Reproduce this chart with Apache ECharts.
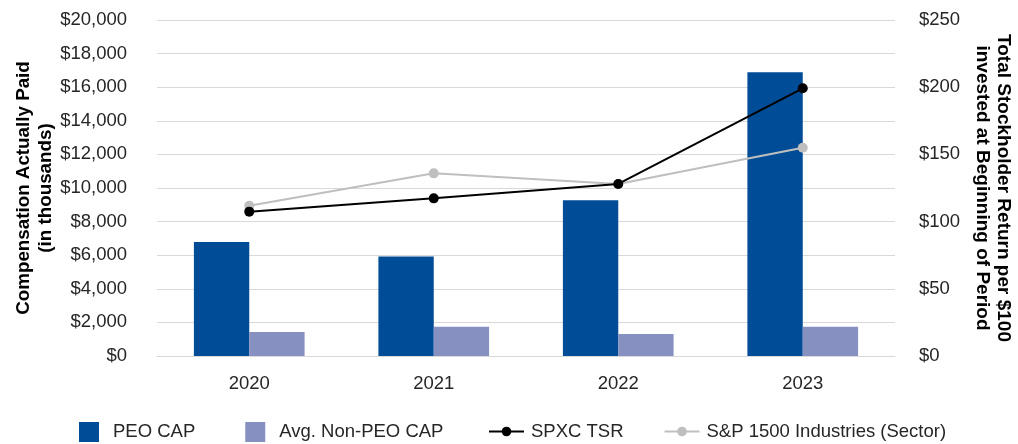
<!DOCTYPE html>
<html>
<head>
<meta charset="utf-8">
<script src="https://cdn.jsdelivr.net/npm/echarts@6/dist/echarts.min.js"></script>
<style>
  html, body { margin: 0; padding: 0; background: #ffffff; }
  #chart { width: 1018px; height: 444px; }
</style>
</head>
<body>
<div id="chart"></div>
<script>
const categories = ['2020', '2021', '2022', '2023'];
const peoCap = [6790, 5930, 9270, 16890];
const nonPeoCap = [1430, 1745, 1310, 1745];
const spxcTsr = [107.4, 117.3, 128, 199.2];
const spSector = [111.8, 135.9, 128, 155];

const FONT = "'Liberation Sans', Arial, sans-serif";
const TXT = '#262626';

function money(v) {
  return '$' + String(v).replace(/\B(?=(\d{3})+(?!\d))/g, ',');
}

const chart = echarts.init(document.getElementById('chart'));
chart.setOption({
  animation: false,
  textStyle: { fontFamily: FONT },
  grid: { left: 157, right: 123, top: 20, bottom: 88, containLabel: false, outerBoundsMode: 'none' },
  legend: [
    {
      data: ['PEO CAP', 'Avg. Non-PEO CAP'],
      left: 79, top: 422, padding: 0,
      itemWidth: 20, itemHeight: 20, itemGap: 50,
      icon: 'rect',
      textStyle: { fontFamily: FONT, fontSize: 18.5, color: TXT, padding: [0, 0, 0, 9] }
    },
    {
      data: ['SPXC TSR', 'S&P 1500 Industries (Sector)'],
      left: 488, top: 422, padding: 0,
      itemWidth: 35, itemHeight: 12, itemGap: 40,
      textStyle: { fontFamily: FONT, fontSize: 18.5, color: TXT, padding: [0, 0, 0, 2] }
    }
  ],
  xAxis: {
    type: 'category',
    data: categories,
    axisLine: { show: true, lineStyle: { color: '#d9d9d9', width: 1 } },
    axisTick: { show: false },
    axisLabel: { fontFamily: FONT, fontSize: 18.5, color: TXT, margin: 18 }
  },
  yAxis: [
    {
      type: 'value', min: 0, max: 20000, interval: 2000,
      position: 'left',
      axisLine: { show: false }, axisTick: { show: false },
      splitLine: { lineStyle: { color: '#d9d9d9', width: 1 } },
      axisLabel: { fontFamily: FONT, fontSize: 18.5, color: TXT, margin: 30, formatter: money },
      name: 'Compensation Actually Paid\n(in thousands)',
      nameLocation: 'middle', nameRotate: 90, nameGap: 100, nameMoveOverlap: false,
      nameTextStyle: { fontFamily: FONT, fontSize: 18.8, fontWeight: 'bold', color: '#000', lineHeight: 22 }
    },
    {
      type: 'value', min: 0, max: 250, interval: 50,
      position: 'right',
      axisLine: { show: false }, axisTick: { show: false },
      splitLine: { show: false },
      axisLabel: { fontFamily: FONT, fontSize: 18.5, color: TXT, margin: 24, formatter: v => '$' + v },
      name: 'Total Stockholder Return per $100\ninvested at Beginning of Period',
      nameLocation: 'middle', nameRotate: -90, nameGap: 77, nameMoveOverlap: false,
      nameTextStyle: { fontFamily: FONT, fontSize: 19, fontWeight: 'bold', color: '#000', lineHeight: 21 }
    }
  ],
  series: [
    {
      name: 'PEO CAP', type: 'bar', data: peoCap, yAxisIndex: 0,
      barCategoryGap: '40%', barGap: '0%',
      itemStyle: { color: '#004c97' }
    },
    {
      name: 'Avg. Non-PEO CAP', type: 'bar', data: nonPeoCap, yAxisIndex: 0,
      barCategoryGap: '40%', barGap: '0%',
      itemStyle: { color: '#8690c1' }
    },
    {
      name: 'SPXC TSR', type: 'line', data: spxcTsr, yAxisIndex: 1,
      symbol: 'circle', symbolSize: 10, z: 4,
      lineStyle: { color: '#000', width: 2 },
      itemStyle: { color: '#000' }
    },
    {
      name: 'S&P 1500 Industries (Sector)', type: 'line', data: spSector, yAxisIndex: 1,
      symbol: 'circle', symbolSize: 10, z: 3,
      lineStyle: { color: '#bfbfbf', width: 2 },
      itemStyle: { color: '#bfbfbf' }
    }
  ]
});
</script>
</body>
</html>
